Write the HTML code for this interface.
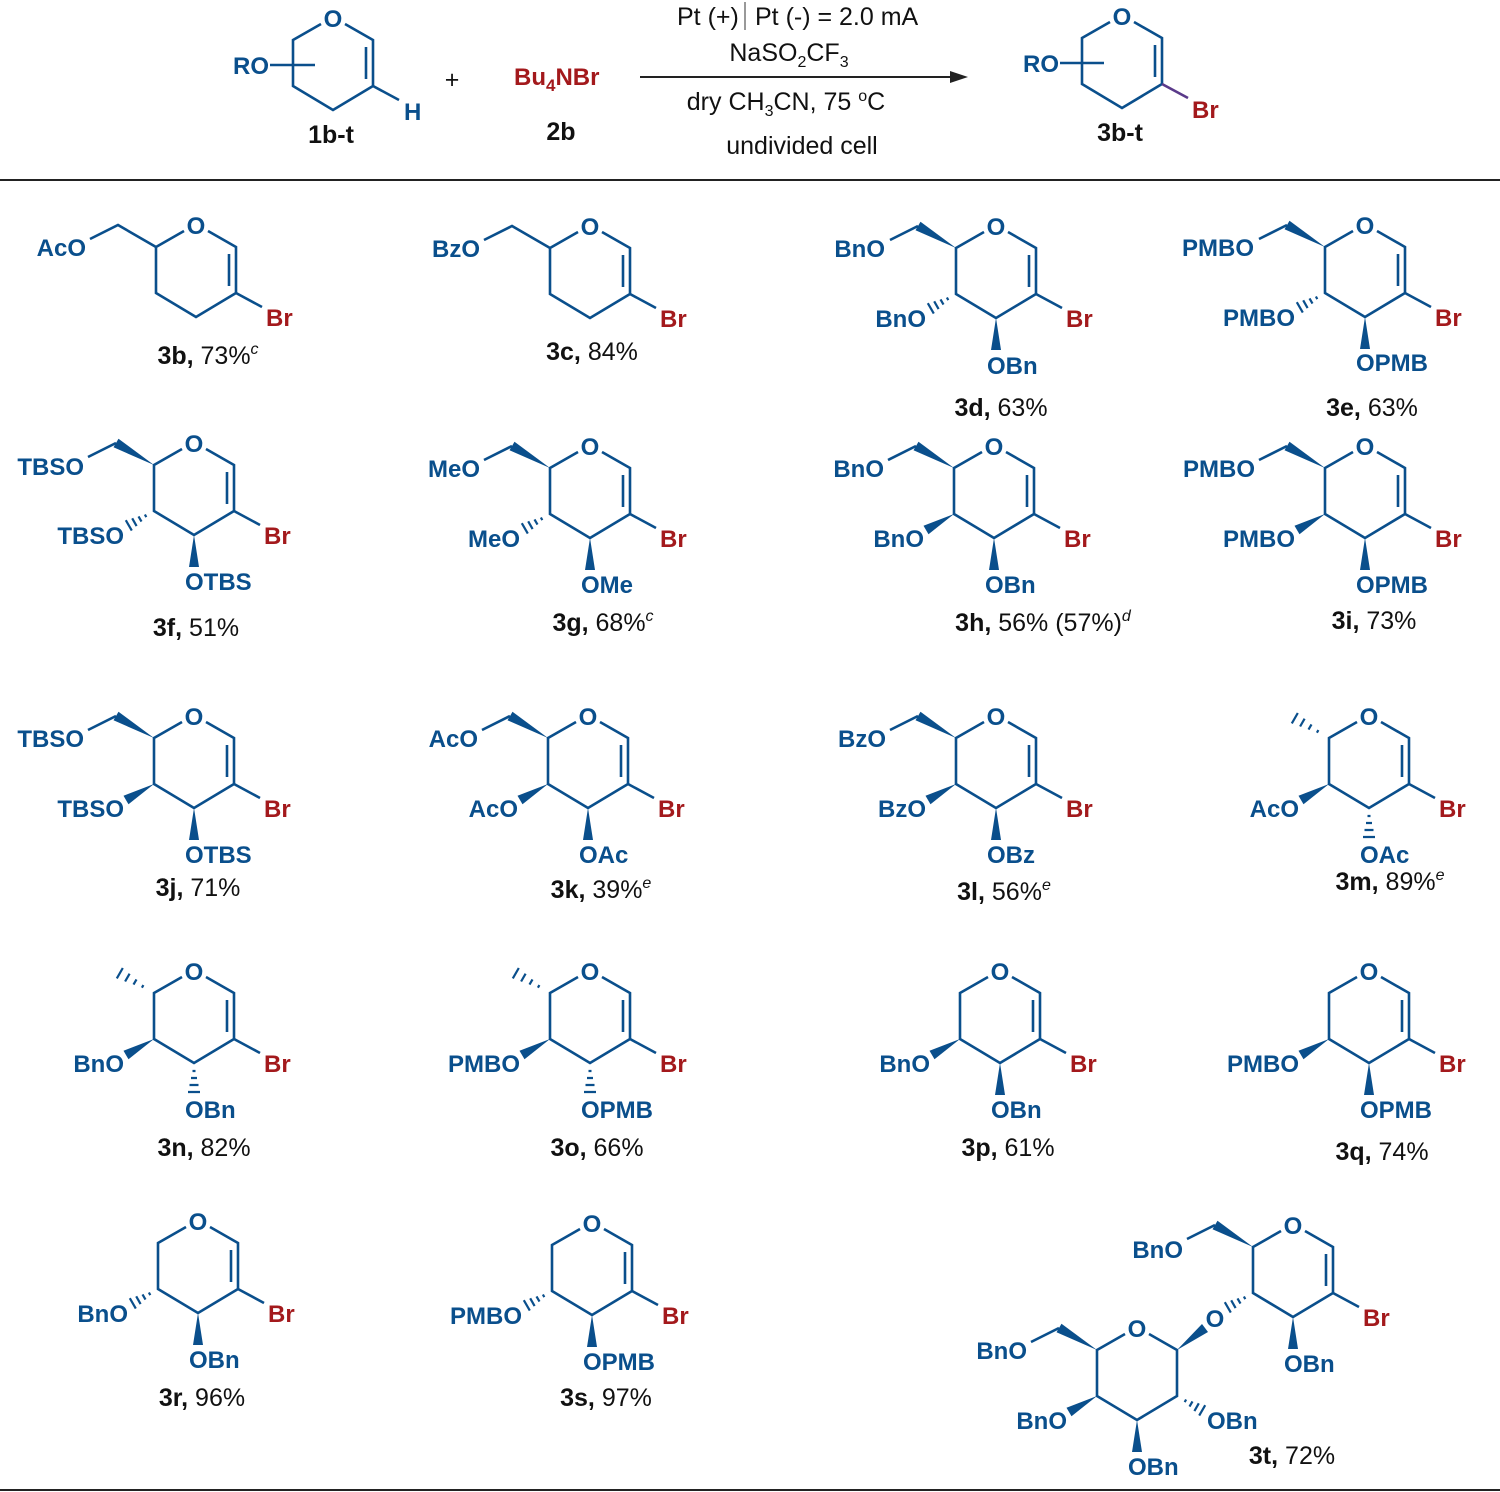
<!DOCTYPE html>
<html><head><meta charset="utf-8"><style>
html,body{margin:0;padding:0;background:#fff;}
svg{display:block;}
.s{font-family:"Liberation Sans",Arial,sans-serif;font-weight:bold;font-size:24px;fill:#0a4f8c;}
.br{font-family:"Liberation Sans",Arial,sans-serif;font-weight:bold;font-size:24px;fill:#a3191c;}
.o{font-family:"Liberation Sans",Arial,sans-serif;font-weight:bold;font-size:24px;fill:#0a4f8c;text-anchor:middle;}
.l{font-family:"Liberation Sans",Arial,sans-serif;font-size:25px;fill:#111;text-anchor:middle;}
.l tspan.b{font-weight:bold;}
.n{font-family:"Liberation Sans",Arial,sans-serif;font-size:25px;fill:#111;text-anchor:middle;}
</style></head><body>
<svg width="1500" height="1492" viewBox="0 0 1500 1492" xmlns="http://www.w3.org/2000/svg">
<defs>
<g id="r" stroke="#0a4f8c" stroke-width="2.6" fill="none">
<path d="M-12,6 L-40,22 L-40,68 L0,92 L40,68 L40,22 L12,6"/>
<path d="M33,29 L33,61"/>
</g>
<g id="r2" stroke="#0a4f8c" stroke-width="2.6" fill="none">
<path d="M-12,6 L-40,22 L-40,68 L0,92 L40,68 L40,22 L12,6"/>
</g>
<g id="b" stroke="#0a4f8c" stroke-width="2.6" fill="none"><path d="M40,68 L66,82"/></g>
<g id="p5" stroke="#0a4f8c" stroke-width="2.6" fill="none"><path d="M-40,22 L-78,0 L-106,14"/></g>
<g id="w5"><polygon points="-40,22 -75.5,-4.3 -80.5,4.3" fill="#0a4f8c"/><path d="M-78,0 L-106,14" stroke="#0a4f8c" stroke-width="2.6"/></g>
<g id="h5" stroke="#0a4f8c" stroke-width="2.2"><path d="M-50.6,14.1 L-52.1,16.7 M-57.5,8.4 L-60.5,13.6 M-64.4,2.7 L-68.9,10.5 M-71.2,-3 L-77.2,7.4"/></g>
<g id="w4"><polygon points="-40,68 -65.5,88.3 -70.5,79.7" fill="#0a4f8c"/></g>
<g id="h4" stroke="#0a4f8c" stroke-width="2.2"><path d="M-47.7,74.1 L-49.1,71.5 M-52.5,78.6 L-55.5,73.4 M-57.4,83.1 L-61.8,75.3 M-62.2,87.6 L-68.2,77.2"/></g>
<g id="w3"><polygon points="0,92 -5,124 5,124" fill="#0a4f8c"/></g>
<g id="h3" stroke="#0a4f8c" stroke-width="2.2"><path d="M-1.5,100 L1.5,100 M-3,107 L3,107 M-4.5,114 L4.5,114 M-6,121 L6,121"/></g>
</defs>

<!-- header -->
<g transform="translate(333,18)">
<use href="#r"/><text class="o" x="0" y="9">O</text>
<path d="M40,68 L66,82" stroke="#0a4f8c" stroke-width="2.6"/>
<text class="s" x="71" y="102">H</text>
<path d="M-63,47 L-18,47" stroke="#0a4f8c" stroke-width="2.6"/>
<text class="s" x="-64" y="56" text-anchor="end">RO</text>
</g>
<text class="l" x="331" y="143"><tspan class="b">1b-t</tspan></text>
<text class="n" x="452" y="88">+</text>
<text class="br" x="514" y="85" font-size="26">Bu<tspan font-size="17" dy="6">4</tspan><tspan dy="-6">NBr</tspan></text>
<text class="l" x="561" y="140"><tspan class="b">2b</tspan></text>
<line x1="640" y1="77" x2="955" y2="77" stroke="#222" stroke-width="2"/>
<polygon points="968,77 950,71 950,83" fill="#222"/>
<text class="n" x="677" y="25" style="text-anchor:start">Pt (+)</text>
<line x1="745" y1="2" x2="745" y2="30" stroke="#333" stroke-width="1"/>
<text class="n" x="755" y="25" style="text-anchor:start">Pt (-) = 2.0 mA</text>
<text class="n" x="789" y="61">NaSO<tspan font-size="16" dy="6">2</tspan><tspan dy="-6">CF</tspan><tspan font-size="16" dy="6">3</tspan></text>
<text class="n" x="786" y="110">dry CH<tspan font-size="16" dy="6">3</tspan><tspan dy="-6">CN, 75 </tspan><tspan font-size="16" dy="-9">o</tspan><tspan dy="9">C</tspan></text>
<text class="n" x="802" y="154">undivided cell</text>
<g transform="translate(1122,16)">
<use href="#r"/><text class="o" x="0" y="9">O</text>
<path d="M40,68 L66,82" stroke="#5a3a8a" stroke-width="2.6"/>
<text class="br" x="70" y="102">Br</text>
<path d="M-62,47 L-18,47" stroke="#0a4f8c" stroke-width="2.6"/>
<text class="s" x="-63" y="56" text-anchor="end">RO</text>
</g>
<text class="l" x="1120" y="141"><tspan class="b">3b-t</tspan></text>
<line x1="0" y1="180" x2="1500" y2="180" stroke="#222" stroke-width="2"/>
<line x1="0" y1="1490" x2="1500" y2="1490" stroke="#222" stroke-width="2"/>

<!-- 3b -->
<g transform="translate(196,225)"><use href="#r"/><use href="#b"/><use href="#p5"/>
<text class="o" x="0" y="9">O</text><text class="br" x="70" y="101">Br</text>
<text class="s" x="-110" y="31" text-anchor="end">AcO</text></g>
<text class="l" x="208" y="364"><tspan class="b">3b,</tspan> 73%<tspan font-size="16" font-style="italic" dy="-10">c</tspan></text>
<!-- 3c -->
<g transform="translate(590,226)"><use href="#r"/><use href="#b"/><use href="#p5"/>
<text class="o" x="0" y="9">O</text><text class="br" x="70" y="101">Br</text>
<text class="s" x="-110" y="31" text-anchor="end">BzO</text></g>
<text class="l" x="592" y="360"><tspan class="b">3c,</tspan> 84%</text>
<!-- 3d -->
<g transform="translate(996,226)"><use href="#r"/><use href="#b"/><use href="#w5"/><use href="#h4"/><use href="#w3"/>
<text class="o" x="0" y="9">O</text><text class="br" x="70" y="101">Br</text>
<text class="s" x="-111" y="31" text-anchor="end">BnO</text>
<text class="s" x="-70" y="101" text-anchor="end">BnO</text>
<text class="s" x="-9" y="148">OBn</text></g>
<text class="l" x="1001" y="416"><tspan class="b">3d,</tspan> 63%</text>
<!-- 3e -->
<g transform="translate(1365,225)"><use href="#r"/><use href="#b"/><use href="#w5"/><use href="#h4"/><use href="#w3"/>
<text class="o" x="0" y="9">O</text><text class="br" x="70" y="101">Br</text>
<text class="s" x="-111" y="31" text-anchor="end">PMBO</text>
<text class="s" x="-70" y="101" text-anchor="end">PMBO</text>
<text class="s" x="-9" y="146">OPMB</text></g>
<text class="l" x="1372" y="416"><tspan class="b">3e,</tspan> 63%</text>
<!-- 3f -->
<g transform="translate(194,443)"><use href="#r"/><use href="#b"/><use href="#w5"/><use href="#h4"/><use href="#w3"/>
<text class="o" x="0" y="9">O</text><text class="br" x="70" y="101">Br</text>
<text class="s" x="-110" y="32" text-anchor="end">TBSO</text>
<text class="s" x="-70" y="101" text-anchor="end">TBSO</text>
<text class="s" x="-9" y="147">OTBS</text></g>
<text class="l" x="196" y="636"><tspan class="b">3f,</tspan> 51%</text>
<!-- 3g -->
<g transform="translate(590,446)"><use href="#r"/><use href="#b"/><use href="#w5"/><use href="#h4"/><use href="#w3"/>
<text class="o" x="0" y="9">O</text><text class="br" x="70" y="101">Br</text>
<text class="s" x="-110" y="31" text-anchor="end">MeO</text>
<text class="s" x="-70" y="101" text-anchor="end">MeO</text>
<text class="s" x="-9" y="147">OMe</text></g>
<text class="l" x="603" y="631"><tspan class="b">3g,</tspan> 68%<tspan font-size="16" font-style="italic" dy="-10">c</tspan></text>
<!-- 3h -->
<g transform="translate(994,446)"><use href="#r"/><use href="#b"/><use href="#w5"/><use href="#w4"/><use href="#w3"/>
<text class="o" x="0" y="9">O</text><text class="br" x="70" y="101">Br</text>
<text class="s" x="-110" y="31" text-anchor="end">BnO</text>
<text class="s" x="-70" y="101" text-anchor="end">BnO</text>
<text class="s" x="-9" y="147">OBn</text></g>
<text class="l" x="1043" y="631"><tspan class="b">3h,</tspan> 56% (57%)<tspan font-size="16" font-style="italic" dy="-10">d</tspan></text>
<!-- 3i -->
<g transform="translate(1365,446)"><use href="#r"/><use href="#b"/><use href="#w5"/><use href="#w4"/><use href="#w3"/>
<text class="o" x="0" y="9">O</text><text class="br" x="70" y="101">Br</text>
<text class="s" x="-110" y="31" text-anchor="end">PMBO</text>
<text class="s" x="-70" y="101" text-anchor="end">PMBO</text>
<text class="s" x="-9" y="147">OPMB</text></g>
<text class="l" x="1374" y="629"><tspan class="b">3i,</tspan> 73%</text>
<!-- 3j -->
<g transform="translate(194,716)"><use href="#r"/><use href="#b"/><use href="#w5"/><use href="#w4"/><use href="#w3"/>
<text class="o" x="0" y="9">O</text><text class="br" x="70" y="101">Br</text>
<text class="s" x="-110" y="31" text-anchor="end">TBSO</text>
<text class="s" x="-70" y="101" text-anchor="end">TBSO</text>
<text class="s" x="-9" y="147">OTBS</text></g>
<text class="l" x="198" y="896"><tspan class="b">3j,</tspan> 71%</text>
<!-- 3k -->
<g transform="translate(588,716)"><use href="#r"/><use href="#b"/><use href="#w5"/><use href="#w4"/><use href="#w3"/>
<text class="o" x="0" y="9">O</text><text class="br" x="70" y="101">Br</text>
<text class="s" x="-110" y="31" text-anchor="end">AcO</text>
<text class="s" x="-70" y="101" text-anchor="end">AcO</text>
<text class="s" x="-9" y="147">OAc</text></g>
<text class="l" x="601" y="898"><tspan class="b">3k,</tspan> 39%<tspan font-size="16" font-style="italic" dy="-10">e</tspan></text>
<!-- 3l -->
<g transform="translate(996,716)"><use href="#r"/><use href="#b"/><use href="#w5"/><use href="#w4"/><use href="#w3"/>
<text class="o" x="0" y="9">O</text><text class="br" x="70" y="101">Br</text>
<text class="s" x="-110" y="31" text-anchor="end">BzO</text>
<text class="s" x="-70" y="101" text-anchor="end">BzO</text>
<text class="s" x="-9" y="147">OBz</text></g>
<text class="l" x="1004" y="900"><tspan class="b">3l,</tspan> 56%<tspan font-size="16" font-style="italic" dy="-10">e</tspan></text>
<!-- 3m -->
<g transform="translate(1369,716)"><use href="#r"/><use href="#b"/><use href="#h5"/><use href="#w4"/><use href="#h3"/>
<text class="o" x="0" y="9">O</text><text class="br" x="70" y="101">Br</text>
<text class="s" x="-70" y="101" text-anchor="end">AcO</text>
<text class="s" x="-9" y="147">OAc</text></g>
<text class="l" x="1390" y="890"><tspan class="b">3m,</tspan> 89%<tspan font-size="16" font-style="italic" dy="-10">e</tspan></text>
<!-- 3n -->
<g transform="translate(194,971)"><use href="#r"/><use href="#b"/><use href="#h5"/><use href="#w4"/><use href="#h3"/>
<text class="o" x="0" y="9">O</text><text class="br" x="70" y="101">Br</text>
<text class="s" x="-70" y="101" text-anchor="end">BnO</text>
<text class="s" x="-9" y="147">OBn</text></g>
<text class="l" x="204" y="1156"><tspan class="b">3n,</tspan> 82%</text>
<!-- 3o -->
<g transform="translate(590,971)"><use href="#r"/><use href="#b"/><use href="#h5"/><use href="#w4"/><use href="#h3"/>
<text class="o" x="0" y="9">O</text><text class="br" x="70" y="101">Br</text>
<text class="s" x="-70" y="101" text-anchor="end">PMBO</text>
<text class="s" x="-9" y="147">OPMB</text></g>
<text class="l" x="597" y="1156"><tspan class="b">3o,</tspan> 66%</text>
<!-- 3p -->
<g transform="translate(1000,971)"><use href="#r"/><use href="#b"/><use href="#w4"/><use href="#w3"/>
<text class="o" x="0" y="9">O</text><text class="br" x="70" y="101">Br</text>
<text class="s" x="-70" y="101" text-anchor="end">BnO</text>
<text class="s" x="-9" y="147">OBn</text></g>
<text class="l" x="1008" y="1156"><tspan class="b">3p,</tspan> 61%</text>
<!-- 3q -->
<g transform="translate(1369,971)"><use href="#r"/><use href="#b"/><use href="#w4"/><use href="#w3"/>
<text class="o" x="0" y="9">O</text><text class="br" x="70" y="101">Br</text>
<text class="s" x="-70" y="101" text-anchor="end">PMBO</text>
<text class="s" x="-9" y="147">OPMB</text></g>
<text class="l" x="1382" y="1160"><tspan class="b">3q,</tspan> 74%</text>
<!-- 3r -->
<g transform="translate(198,1221)"><use href="#r"/><use href="#b"/><use href="#h4"/><use href="#w3"/>
<text class="o" x="0" y="9">O</text><text class="br" x="70" y="101">Br</text>
<text class="s" x="-70" y="101" text-anchor="end">BnO</text>
<text class="s" x="-9" y="147">OBn</text></g>
<text class="l" x="202" y="1406"><tspan class="b">3r,</tspan> 96%</text>
<!-- 3s -->
<g transform="translate(592,1223)"><use href="#r"/><use href="#b"/><use href="#h4"/><use href="#w3"/>
<text class="o" x="0" y="9">O</text><text class="br" x="70" y="101">Br</text>
<text class="s" x="-70" y="101" text-anchor="end">PMBO</text>
<text class="s" x="-9" y="147">OPMB</text></g>
<text class="l" x="606" y="1406"><tspan class="b">3s,</tspan> 97%</text>
<!-- 3t upper -->
<g transform="translate(1293,1225)"><use href="#r"/><use href="#b"/><use href="#w5"/><use href="#h4"/><use href="#w3"/>
<text class="o" x="0" y="9">O</text><text class="br" x="70" y="101">Br</text>
<text class="s" x="-110" y="33" text-anchor="end">BnO</text>
<text class="o" x="-78" y="102">O</text>
<text class="s" x="-9" y="147">OBn</text></g>
<!-- 3t lower -->
<g transform="translate(1137,1328)"><use href="#r2"/><use href="#w5"/><use href="#w4"/><use href="#w3"/>
<use href="#h4" transform="scale(-1,1)"/>
<polygon points="40,22 65,-4 71,4" fill="#0a4f8c"/>
<text class="o" x="0" y="9">O</text>
<text class="s" x="-110" y="31" text-anchor="end">BnO</text>
<text class="s" x="-70" y="101" text-anchor="end">BnO</text>
<text class="s" x="70" y="101">OBn</text>
<text class="s" x="-9" y="147">OBn</text></g>
<text class="l" x="1292" y="1464"><tspan class="b">3t,</tspan> 72%</text>
</svg>
</body></html>
